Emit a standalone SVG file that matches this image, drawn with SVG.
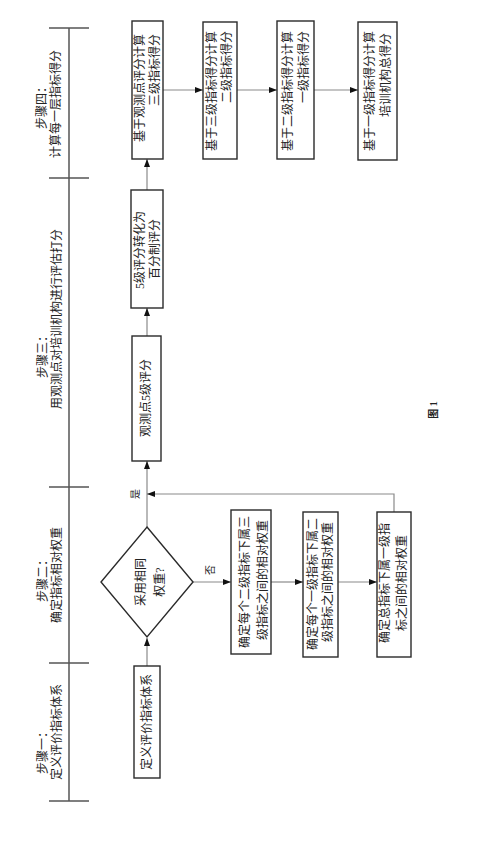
<svg xmlns="http://www.w3.org/2000/svg" width="496" height="842" viewBox="0 0 496 842">
<style>
.bg{fill:#fff}
.box{fill:#fff;stroke:#2a2a2a;stroke-width:1.4}
.axis{stroke:#555;stroke-width:1.5;fill:none}
.conn{stroke:#8a8a8a;stroke-width:1.2;fill:none}
.t{font-family:"Liberation Serif","Noto Sans CJK SC",serif;font-size:12px;fill:#222;dominant-baseline:central}
.m{text-anchor:middle}
.e{text-anchor:end}
.cap{font-family:"Liberation Serif","Noto Sans CJK SC",serif;font-size:10px;font-weight:bold;fill:#222;text-anchor:middle;dominant-baseline:central}
</style>
<defs>
<marker id="arr" viewBox="0 0 8 6" refX="8" refY="3" markerWidth="8" markerHeight="6" markerUnits="userSpaceOnUse" orient="auto">
<path d="M0,0 L8,3 L0,6 Z" fill="#111"/>
</marker>
</defs>
<rect class="bg" x="0" y="0" width="496" height="842"/>

<g id="axis">
<line class="axis" x1="69" y1="28" x2="69" y2="801"/>
<line class="axis" x1="49" y1="28" x2="89" y2="28"/>
<line class="axis" x1="49" y1="178" x2="89" y2="178"/>
<line class="axis" x1="49" y1="487" x2="89" y2="487"/>
<line class="axis" x1="49" y1="663" x2="89" y2="663"/>
<line class="axis" x1="49" y1="801" x2="89" y2="801"/>
</g>

<g id="step4-label">
<text class="t m" transform="rotate(-90 42 105)" x="42" y="105">步骤四：</text>
<text class="t m" transform="rotate(-90 56 104)" x="56" y="104">计算每一层指标得分</text>
</g>
<g id="step3-label">
<text class="t m" transform="rotate(-90 43 354)" x="43" y="354">步骤三：</text>
<text class="t m" transform="rotate(-90 57 319)" x="57" y="319">用观测点对培训机构进行评估打分</text>
</g>
<g id="step2-label">
<text class="t m" transform="rotate(-90 43 578)" x="43" y="578">步骤二：</text>
<text class="t m" transform="rotate(-90 57 575)" x="57" y="575">确定指标相对权重</text>
</g>
<g id="step1-label">
<text class="t m" transform="rotate(-90 43 750)" x="43" y="750">步骤一：</text>
<text class="t m" transform="rotate(-90 57 732)" x="57" y="732">定义评价指标体系</text>
</g>

<g id="connectors">
<line class="conn" x1="147" y1="666" x2="147" y2="638" marker-end="url(#arr)"/>
<line class="conn" x1="147" y1="527" x2="147" y2="461" marker-end="url(#arr)"/>
<line class="conn" x1="147" y1="336" x2="147" y2="308" marker-end="url(#arr)"/>
<line class="conn" x1="147" y1="190" x2="147" y2="159" marker-end="url(#arr)"/>
<line class="conn" x1="163" y1="90" x2="203" y2="90" marker-end="url(#arr)"/>
<line class="conn" x1="237" y1="90" x2="277" y2="90" marker-end="url(#arr)"/>
<line class="conn" x1="314" y1="90" x2="358" y2="90" marker-end="url(#arr)"/>
<line class="conn" x1="193" y1="582" x2="231" y2="582" marker-end="url(#arr)"/>
<line class="conn" x1="271" y1="582" x2="303" y2="582" marker-end="url(#arr)"/>
<line class="conn" x1="338" y1="582" x2="377" y2="582" marker-end="url(#arr)"/>
<polyline class="conn" points="394,512 394,494 147,494" marker-end="url(#arr)"/>
<text class="t m" transform="rotate(-90 135 494)" x="135" y="494" style="font-size:10px">是</text>
<text class="t m" transform="rotate(-90 210 570)" x="210" y="570" style="font-size:10px">否</text>
</g>

<g id="define">
<rect class="box" x="134" y="666" width="26" height="112"/>
<text class="t m" transform="rotate(-90 147 722)" x="147" y="722">定义评价指标体系</text>
</g>

<g id="decision">
<polygon class="box" points="147,527 193,582 147,637 101,582"/>
<text class="t m" transform="rotate(-90 141 582)" x="141" y="582">采用相同</text>
<text class="t m" transform="rotate(-90 160 582)" x="160" y="582">权重?</text>
</g>

<g id="w3">
<rect class="box" x="231" y="510" width="40" height="144"/>
<text class="t m" transform="rotate(-90 245 582)" x="245" y="582">确定每个二级指标下属三</text>
<text class="t m" transform="rotate(-90 263 580)" x="263" y="580">级指标之间的相对权重</text>
</g>
<g id="w2">
<rect class="box" x="303" y="512" width="35" height="145"/>
<text class="t m" transform="rotate(-90 313 584)" x="313" y="584">确定每个一级指标下属二</text>
<text class="t m" transform="rotate(-90 328 582)" x="328" y="582">级指标之间的相对权重</text>
</g>
<g id="w1">
<rect class="box" x="377" y="512" width="34" height="145"/>
<text class="t m" transform="rotate(-90 385 583)" x="385" y="583">确定总指标下属一级指</text>
<text class="t m" transform="rotate(-90 402 583)" x="402" y="583">标之间的相对权重</text>
</g>

<g id="observe">
<rect class="box" x="132" y="336" width="29" height="125"/>
<text class="t m" transform="rotate(-90 146 398)" x="146" y="398">观测点5级评分</text>
</g>
<g id="convert">
<rect class="box" x="131" y="190" width="32" height="118"/>
<text class="t m" transform="rotate(-90 140 250)" x="140" y="250">5级评分转化为</text>
<text class="t m" transform="rotate(-90 155 249)" x="155" y="249">百分制评分</text>
</g>

<g id="s3">
<rect class="box" x="132" y="21" width="31" height="138"/>
<text class="t m" transform="rotate(-90 140 88)" x="140" y="88">基于观测点评分计算</text>
<text class="t e" transform="rotate(-90 155 34)" x="155" y="34">三级指标得分</text>
</g>
<g id="s2">
<rect class="box" x="203" y="22" width="34" height="137"/>
<text class="t m" transform="rotate(-90 212 91)" x="212" y="91">基于三级指标得分计算</text>
<text class="t e" transform="rotate(-90 227 31)" x="227" y="31">二级指标得分</text>
</g>
<g id="s1">
<rect class="box" x="277" y="21" width="37" height="138"/>
<text class="t m" transform="rotate(-90 288 91)" x="288" y="91">基于二级指标得分计算</text>
<text class="t e" transform="rotate(-90 304 31)" x="304" y="31">一级指标得分</text>
</g>
<g id="total">
<rect class="box" x="358" y="22" width="39" height="138"/>
<text class="t m" transform="rotate(-90 370 91)" x="370" y="91">基于一级指标得分计算</text>
<text class="t e" transform="rotate(-90 386 33)" x="386" y="33">培训机构总得分</text>
</g>

<g id="caption">
<text class="cap" transform="rotate(-90 433 410)" x="433" y="410">图 1</text>
</g>
</svg>
